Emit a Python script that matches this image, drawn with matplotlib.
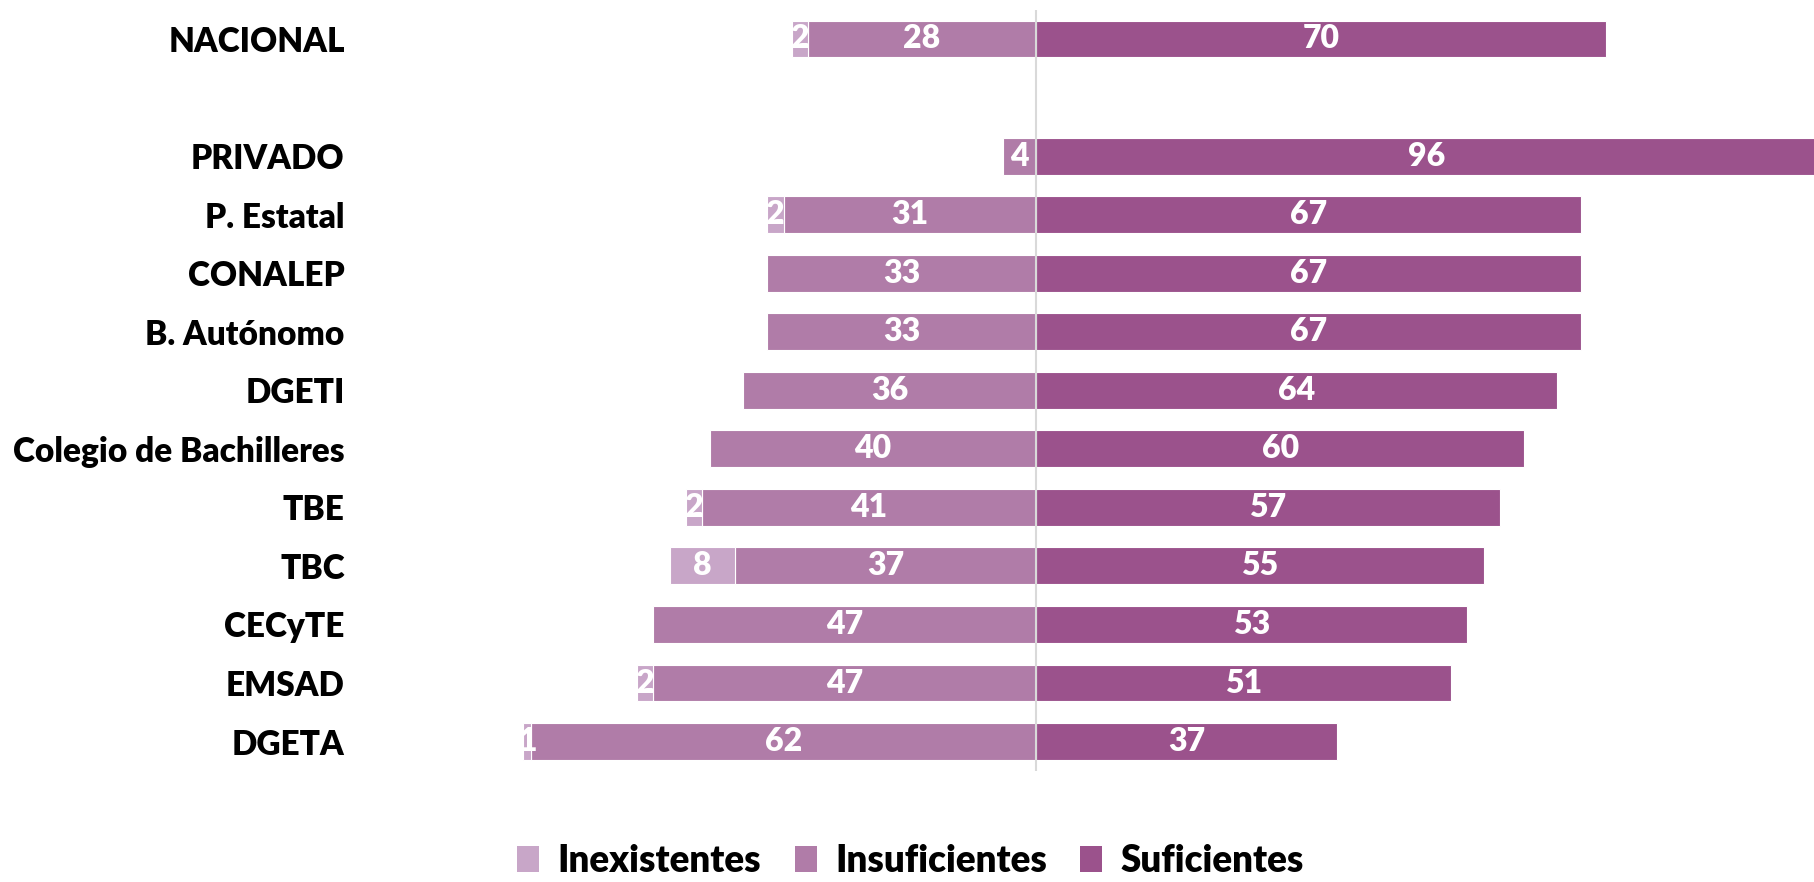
import numpy as np
import matplotlib
matplotlib.use("Agg")
import matplotlib.pyplot as plt
from matplotlib.patches import Patch

# ── 데이터 ──────────────────────────────────────────
categorias = ['NACIONAL', '', 'PRIVADO', 'P. Estatal', 'CONALEP', 'B. Autónomo',
              'DGETI', 'Colegio de Bachilleres', 'TBE', 'TBC', 'CECyTE',
              'EMSAD', 'DGETA']
inexistentes = [2, None, 0, 2, 0, 0, 0, 0, 2, 8, 0, 2, 1]
insuficientes = [28, None, 4, 31, 33, 33, 36, 40, 41, 37, 47, 47, 62]
suficientes = [70, None, 96, 67, 67, 67, 64, 60, 57, 55, 53, 51, 37]

series_nombres = ['Inexistentes', 'Insuficientes', 'Suficientes']
COLORES = ['#C8A6C8', '#B07CA8', '#9B528C']

plt.rcParams['font.family'] = ['Lato', 'DejaVu Sans']
W = 'heavy'

fig = plt.figure(figsize=(18.14, 8.82), dpi=100)
ax = fig.add_axes([0.2, 0.126, 0.8, 0.863])

n = len(categorias)
ypos = np.arange(n)[::-1]   # NACIONAL 위

for y, inx, ins, suf in zip(ypos, inexistentes, insuficientes, suficientes):
    if ins is None:
        continue
    ax.barh(y, -ins, left=0, height=0.63, color=COLORES[1],
            edgecolor='white', linewidth=0.8)
    ax.barh(y, suf, left=0, height=0.63, color=COLORES[2],
            edgecolor='white', linewidth=0.8)
    if inx:
        ax.barh(y, -inx, left=-ins, height=0.63, color=COLORES[0],
                edgecolor='white', linewidth=0.8)
        ax.text(-ins - inx / 2, y, f'{inx}', ha='center', va='center',
                color='white', fontsize=23, fontweight=W)
    ax.text(-ins / 2, y, f'{ins}', ha='center', va='center',
            color='white', fontsize=23, fontweight=W)
    ax.text(suf / 2, y, f'{suf}', ha='center', va='center',
            color='white', fontsize=23, fontweight=W)

ax.axvline(0, color='#D9D9D9', lw=1.5, zorder=3)

ax.set_xlim(-82.7, 95.6)
ax.set_ylim(-0.5, n - 0.5)
ax.set_yticks(ypos)
ax.set_yticklabels(categorias, fontsize=24, fontweight=W)
ax.tick_params(axis='y', length=0, pad=13)
ax.set_xticks([])
for s in ax.spines.values():
    s.set_visible(False)

handles = [Patch(facecolor=c, label=l) for c, l in zip(COLORES, series_nombres)]
fig.legend(handles=handles, loc='center', bbox_to_anchor=(0.502, 0.024),
           ncol=3, frameon=False, prop={'size': 26.5, 'weight': W},
           handlelength=0.6, handleheight=0.7, handletextpad=0.5,
           columnspacing=0.9, borderpad=0.1)

fig.savefig('out.png', dpi=100)
